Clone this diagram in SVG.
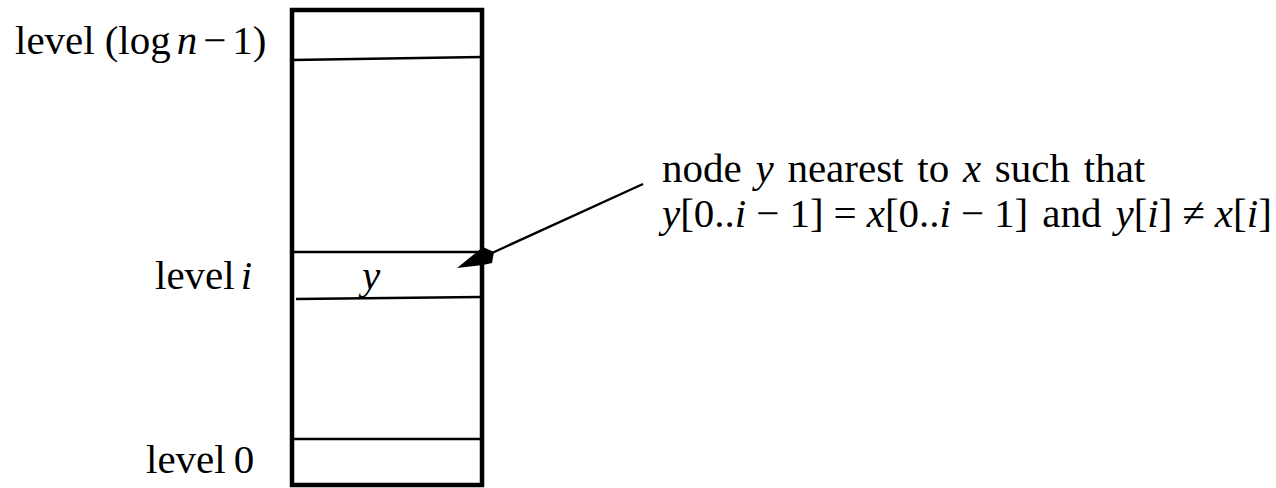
<svg xmlns="http://www.w3.org/2000/svg" width="1276" height="488" viewBox="0 0 1276 488">
<style>
text{font-family:"Liberation Serif","DejaVu Serif",serif;font-size:41px;fill:#000}
.i{font-style:italic}
.ln{stroke:#000;stroke-width:2.4;fill:none}
</style>
<rect width="1276" height="488" fill="#fff"/>
<g id="stack">
<rect x="292" y="10" width="190" height="475" fill="none" stroke="#000" stroke-width="4.5"/>
<line class="ln" x1="292" y1="60" x2="482" y2="57"/>
<line class="ln" x1="292" y1="252" x2="482" y2="252"/>
<line class="ln" x1="296" y1="299" x2="481" y2="297"/>
<line class="ln" x1="292" y1="439" x2="482" y2="439"/>
<text x="362" y="289" class="i">y</text>
</g>
<g id="labels">
<text x="15" y="54">level<tspan dx="10">(log</tspan><tspan dx="6" class="i">n</tspan><tspan dx="6">−</tspan><tspan dx="6">1)</tspan></text>
<text x="155" y="289">level<tspan dx="6" class="i">i</tspan></text>
<text x="146" y="473">level<tspan dx="8">0</tspan></text>
</g>
<g id="note">
<text x="662" y="182" word-spacing="3.5">node <tspan class="i">y</tspan> nearest to <tspan class="i">x</tspan> such that</text>
<text x="662" y="227"><tspan class="i">y</tspan>[0..<tspan class="i">i</tspan><tspan dx="10">−</tspan><tspan dx="10">1]</tspan><tspan dx="10">=</tspan><tspan dx="10" class="i">x</tspan>[0..<tspan class="i">i</tspan><tspan dx="10">−</tspan><tspan dx="10">1]</tspan><tspan dx="14">and</tspan><tspan dx="14" class="i">y</tspan>[<tspan class="i">i</tspan>]<tspan dx="10">≠</tspan><tspan dx="10" class="i">x</tspan>[<tspan class="i">i</tspan>]</text>
</g>
<g id="connectors">
<line class="ln" x1="643" y1="184" x2="492" y2="253"/>
<polygon points="457,268 483,247 494,252 492,263 483,265" fill="#000"/>
</g>
</svg>
